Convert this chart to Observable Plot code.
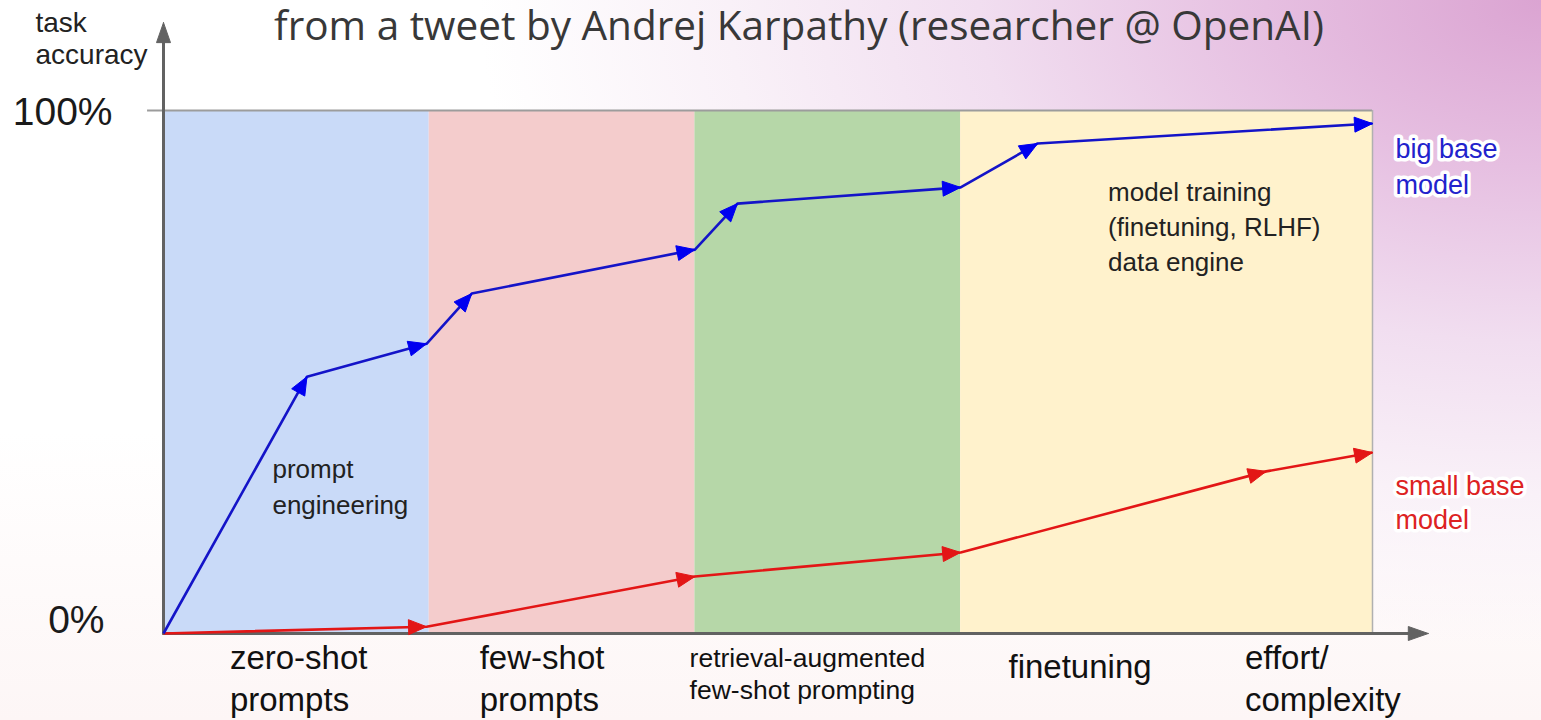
<!DOCTYPE html>
<html>
<head>
<meta charset="utf-8">
<script src="https://cdn.jsdelivr.net/npm/d3@7"></script>
<script src="https://cdn.jsdelivr.net/npm/@observablehq/plot@0.6"></script>
<style>
  html, body { margin: 0; padding: 0; }
  body {
    width: 1541px; height: 720px; overflow: hidden;
    background:
      radial-gradient(ellipse 1250px 760px at 100% 0%, #dba4d2 0%, #e6bfe1 22%, #f1def0 45%, #f9f1f8 65%, rgba(255,255,255,0) 85%),
      linear-gradient(180deg, #ffffff 0%, #ffffff 60%, #fdf6f6 100%);
  }
  #chart svg { display: block; }
</style>
</head>
<body>
<div id="chart"></div>
<script>
// ---- data ----
const title = "from a tweet by Andrej Karpathy (researcher @ OpenAI)";
const yLabel = "task\naccuracy";
const xLabel = "effort/\ncomplexity";

const stages = ["zero-shot\nprompts", "few-shot\nprompts", "retrieval-augmented\nfew-shot prompting", "finetuning"];
const stageStart = [0, 1, 2, 3];
const stageEnd = [1, 2, 3, 4.55];
const stageLabelAt = [0.25, 1.19, 1.98, 3.18];
const xLabelAt = 4.07;

const yTicks = [0, 100];
const yTickLabels = ["0%", "100%"];

const bigX = [0, 0.54, 0.99, 1.16, 2.0, 2.16, 3.0, 3.29, 4.55];
const bigY = [0, 49.1, 55.4, 65.0, 73.4, 82.2, 85.3, 93.7, 97.5];
const smallX = [0, 0.99, 2.0, 3.0, 4.15, 4.55];
const smallY = [0, 1.3, 10.9, 15.5, 31.0, 34.6];
const seriesNames = ["big base\nmodel", "small base\nmodel"];

const noteText = ["prompt\nengineering", "model training\n(finetuning, RLHF)\ndata engine"];
const noteX = [0.41, 3.555];
const noteY = [34.4, 87.5];

const axisTipX = 4.76;   // x-axis arrow end (effort)
const axisTipY = 116.8;  // y-axis arrow end (accuracy)

// ---- tables ----
const xEnd = stageEnd[stageEnd.length - 1];
const stageRows = stages.map((s, i) => ({name: s, x1: stageStart[i], x2: stageEnd[i], lx: stageLabelAt[i]}));
const bigRows = bigX.map((x, i) => ({x, y: bigY[i]}));
const smallRows = smallX.map((x, i) => ({x, y: smallY[i]}));
const tickRows = yTicks.map((v, i) => ({v, label: yTickLabels[i]}));
const noteRows = noteText.map((t, i) => ({t, x: noteX[i], y: noteY[i]}));

const font = "'Liberation Sans', Arial, Helvetica, sans-serif";
const blue = "#1414c8", red = "#e31616", axisGray = "#626262";

const base = {
  width: 1541, height: 720,
  marginLeft: 163, marginRight: 169, marginTop: 110, marginBottom: 87,
  x: {domain: [0, xEnd], axis: null},
  y: {domain: [0, 100], axis: null},
  color: {domain: stages, range: ["#c9daf8", "#f4cccc", "#b6d7a8", "#fff2cc"]},
  style: {background: "transparent", overflow: "visible", fontFamily: font}
};

// probe the scales to build arrowheads in screen space
const probe = Plot.plot({...base, marks: [Plot.frame()]});
const sx = probe.scale("x"), sy = probe.scale("y");
const X = d3.scaleLinear(sx.domain, sx.range);
const Y = d3.scaleLinear(sy.domain, sy.range);

function heads(xs, ys, L, hw, id) {
  const out = [];
  for (let i = 1; i < xs.length; i++) {
    const x0 = X(xs[i - 1]), y0 = Y(ys[i - 1]), x1 = X(xs[i]), y1 = Y(ys[i]);
    const len = Math.hypot(x1 - x0, y1 - y0);
    const ux = (x1 - x0) / len, uy = (y1 - y0) / len;
    const bx = x1 - L * ux, by = y1 - L * uy, nx = -uy, ny = ux;
    [[x1, y1], [bx + hw * nx, by + hw * ny], [bx - hw * nx, by - hw * ny], [x1, y1]]
      .forEach(([a, b]) => out.push({id: id + i, x: X.invert(a), y: Y.invert(b)}));
  }
  return out;
}
const bigHeads = heads(bigX, bigY, 18, 7.5, "b");
const smallHeads = heads(smallX, smallY, 18, 7.5, "s");
const yAxisHead = heads([0, 0], [0, axisTipY], 20, 7, "ya");
const xAxisHead = heads([0, axisTipX], [0, 0], 20, 7, "xa");

const chart = Plot.plot({
  ...base,
  marks: [
    // stage backgrounds
    Plot.rect(stageRows, {x1: "x1", x2: "x2", y1: 0, y2: 100, fill: "name"}),
    // frame top & right
    Plot.ruleY([100], {x1: -0.06, x2: xEnd, stroke: "#9c9c9c", strokeWidth: 2}),
    Plot.ruleX([xEnd], {y1: 0, y2: 100, stroke: "#b0b0b0", strokeWidth: 1.5}),
    // axes with arrowheads
    Plot.line([{x: 0, y: 0}, {x: 0, y: axisTipY - 3}], {x: "x", y: "y", stroke: axisGray, strokeWidth: 3}),
    Plot.line([{x: 0, y: 0}, {x: axisTipX - 0.05, y: 0}], {x: "x", y: "y", stroke: axisGray, strokeWidth: 3}),
    Plot.line(yAxisHead, {x: "x", y: "y", z: "id", fill: axisGray, stroke: axisGray, strokeWidth: 1, curve: "linear"}),
    Plot.line(xAxisHead, {x: "x", y: "y", z: "id", fill: axisGray, stroke: axisGray, strokeWidth: 1, curve: "linear"}),
    // series
    Plot.line(smallRows, {x: "x", y: "y", stroke: red, strokeWidth: 2.6, strokeLinecap: "butt"}),
    Plot.line(smallHeads, {x: "x", y: "y", z: "id", fill: red, stroke: red, strokeWidth: 1, curve: "linear"}),
    Plot.line(bigRows, {x: "x", y: "y", stroke: blue, strokeWidth: 2.6, strokeLinecap: "butt"}),
    Plot.line(bigHeads, {x: "x", y: "y", z: "id", fill: "#0000f0", stroke: "#0000f0", strokeWidth: 1, curve: "linear"}),
    // series labels
    Plot.text([bigRows[bigRows.length - 1]], {x: "x", y: "y", text: () => seriesNames[0], textAnchor: "start", lineAnchor: "top",
      dx: 23, dy: 9, fontSize: 27, lineHeight: 1.33, fill: "#2222cc", stroke: "white", strokeWidth: 7}),
    Plot.text([smallRows[smallRows.length - 1]], {x: "x", y: "y", text: () => seriesNames[1], textAnchor: "start", lineAnchor: "top",
      dx: 23, dy: 18, fontSize: 27, lineHeight: 1.27, fill: "#dd2222", stroke: "white", strokeWidth: 7}),
    // annotations
    Plot.text(noteRows, {x: "x", y: "y", text: "t", textAnchor: "start", lineAnchor: "top", fontSize: 26, lineHeight: 1.35, fill: "#222"}),
    // y tick labels
    Plot.text(tickRows.filter(d => d.v === 100), {x: 0, y: "v", text: "label", textAnchor: "end", dx: -51, dy: 2, fontSize: 39, fill: "#1a1a1a"}),
    Plot.text(tickRows.filter(d => d.v === 0), {x: 0, y: "v", text: "label", textAnchor: "end", dx: -59, dy: -13, fontSize: 39, fill: "#1a1a1a"}),
    // axis titles
    Plot.text([yLabel], {frameAnchor: "top-left", textAnchor: "start", lineAnchor: "top", dx: -128, dy: -101, fontSize: 28, lineHeight: 1.14, fill: "#222"}),
    Plot.text([xLabel], {x: xLabelAt, y: 0, textAnchor: "start", lineAnchor: "top", dy: 6, fontSize: 33, lineHeight: 1.27, fill: "#111"}),
    // stage labels
    Plot.text(stageRows.filter((d, i) => i < 2), {x: "lx", y: 0, text: "name", textAnchor: "start", lineAnchor: "top", dy: 6, fontSize: 33, lineHeight: 1.27, fill: "#111"}),
    Plot.text(stageRows.filter((d, i) => i === 2), {x: "lx", y: 0, text: "name", textAnchor: "start", lineAnchor: "top", dy: 11, fontSize: 26.5, lineHeight: 1.2, fill: "#111"}),
    Plot.text(stageRows.filter((d, i) => i === 3), {x: "lx", y: 0, text: "name", textAnchor: "start", lineAnchor: "top", dy: 21, fontSize: 33, fill: "#111"}),
    // title
    Plot.text([title], {frameAnchor: "top", lineAnchor: "top", dx: 31, dy: -99, fontSize: 40.5, fontFamily: "'Open Sans', 'Noto Sans', sans-serif", fill: "#383838"})
  ]
});
document.getElementById("chart").appendChild(chart);
</script>
</body>
</html>
